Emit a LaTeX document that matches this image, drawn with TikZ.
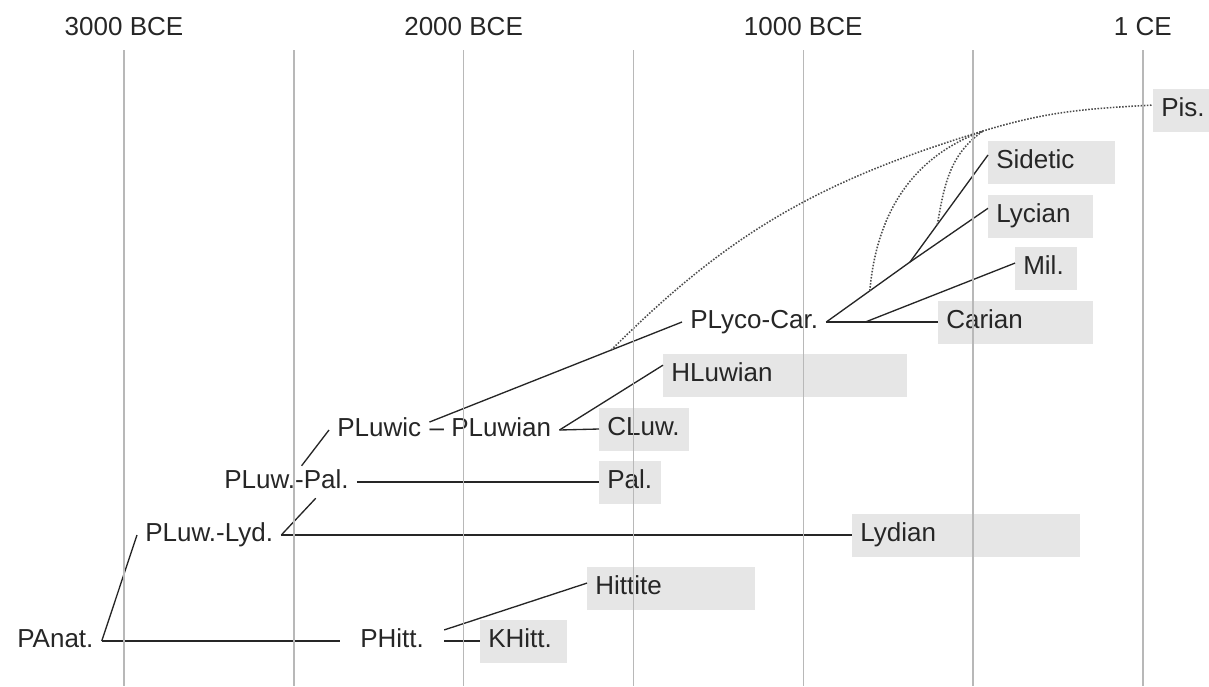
\documentclass[tikz,border=0pt]{standalone}
\usepackage{fontspec}
\setmainfont{Liberation Sans}
\usepackage{xcolor}
\usepackage{tikz}
\usetikzlibrary{positioning,calc}

\definecolor{boxgray}{HTML}{E6E6E6}
\definecolor{gridgray}{HTML}{B8B8B8}
\definecolor{inkgray}{HTML}{262626}

\begin{document}
\begin{tikzpicture}[x=0.025cm, y=-0.025cm,
    every node/.style={font=\fontsize{18.5}{22}\selectfont, text=inkgray,
      text height=13.3pt, text depth=3.7pt},
    proto/.style={anchor=west, inner xsep=0.2cm, inner ysep=0.1cm},
    lang/.style={anchor=west, fill=boxgray, inner xsep=0.2cm,
      minimum height=1.075cm, align=left},
    branch/.style={draw=inkgray, line width=0.95pt},
    contact/.style={draw=black!70, line width=1.1pt, dash pattern=on 1.1pt off 1.1pt}]
  \useasboundingbox (0,0) rectangle (1209,686);

  % Time axis labels
  \node (t3000) at (124, 29) {3000 BCE};
  \node (t2000) at (463.6, 29) {2000 BCE};
  \node (t1000) at (803.2, 29) {1000 BCE};
  \node (t1ce) at (1142.8, 29) {1 CE};

  % Attested languages (grey bar = period of attestation)
  \node[lang, text width=1.15cm] (pis) at (1153, 110) {Pis.};
  \node[lang, text width=2.775cm] (sidetic) at (988, 162) {Sidetic};
  \node[lang, text width=2.225cm] (lycian) at (988, 216) {Lycian};
  \node[lang, text width=1.15cm] (mil) at (1015, 268) {Mil.};
  \node[lang, text width=3.475cm] (carian) at (938, 322) {Carian};
  \node[lang, text width=5.7cm] (hluwian) at (663, 375) {HLuwian};
  \node[lang, text width=1.85cm] (cluw) at (599, 429) {CLuw.};
  \node[lang, text width=1.15cm] (pal) at (599, 482) {Pal.};
  \node[lang, text width=5.3cm] (lydian) at (852, 535) {Lydian};
  \node[lang, text width=3.8cm] (hittite) at (587, 588) {Hittite};
  \node[lang, text width=1.775cm] (khitt) at (480, 641) {KHitt.};

  % Proto-languages
  \node[proto] (panat) at (9, 641) {PAnat.};
  \node[proto, inner xsep=0.5cm] (phitt) at (340, 641) {PHitt.};
  \node[proto] (pluwlyd) at (137, 535) {PLuw.-Lyd.};
  \node[proto] (pluwpal) at (216, 482) {PLuw.-Pal.};
  \node[proto] (pluwic) at (329, 430) {PLuwic};
  \node[proto, right=-0.2cm of pluwic] (pluwian) {-- PLuwian};
  \node[proto] (plycocar) at (682, 322) {PLyco-Car.};

  \coordinate (lycosid) at (910, 262);
  \coordinate (milfork) at ($(plycocar.east)!0.35!(carian.west)$);
  \coordinate (sidin) at ([yshift=5pt]sidetic.west);

  % Branches
  \draw[branch] (panat.east) -- (pluwlyd.west);
  \draw[branch] (panat.east) -- (phitt.west);
  \draw[branch] (phitt.12) -- ([yshift=3.5pt]hittite.west);
  \draw[branch] (phitt.east) -- (khitt.west);
  \draw[branch] (pluwlyd.east) -- (lydian.west);
  \draw[branch] (pluwlyd.east) -- (pluwpal.-29);
  \draw[branch] (pluwpal.east) -- (pal.west);
  \draw[branch] (pluwpal.47) -- (pluwic.west);
  \draw[branch] (pluwic.9) -- (plycocar.west);
  \draw[branch] (pluwian.east) -- ([yshift=7pt]hluwian.west);
  \draw[branch] (pluwian.east) -- (cluw.west);
  \draw[branch] (plycocar.east) -- (lycosid) -- (sidin);
  \draw[branch] (lycosid) -- ([yshift=5.5pt]lycian.west);
  \draw[branch] (plycocar.east) -- (carian.west);
  \draw[branch] (milfork) -- ([yshift=3.5pt]mil.west);

  % Contact / uncertain links (dotted)
  \coordinate (pisstart) at ($(pluwic.9)!0.72!(plycocar.west)$);
  \coordinate (splitA) at ($(plycocar.east)!0.52!(lycosid)$);
  \coordinate (splitB) at ($(lycosid)!0.35!(sidin)$);
  \coordinate (pisjoin) at (983, 131);
  \draw[contact] (pisstart) to[out=45, in=197] (pisjoin)
    to[out=17, in=183] ([yshift=3.5pt]pis.west);
  \draw[contact] (splitA) to[out=85, in=200] (pisjoin);
  \draw[contact] (splitB) to[out=80, in=215] (pisjoin);

  % Grid (every 500 years)
  \foreach \i in {0,...,6}
    \draw[gridgray, line width=1pt] ({124+169.8*\i}, 50) -- ({124+169.8*\i}, 686);
\end{tikzpicture}
\end{document}
